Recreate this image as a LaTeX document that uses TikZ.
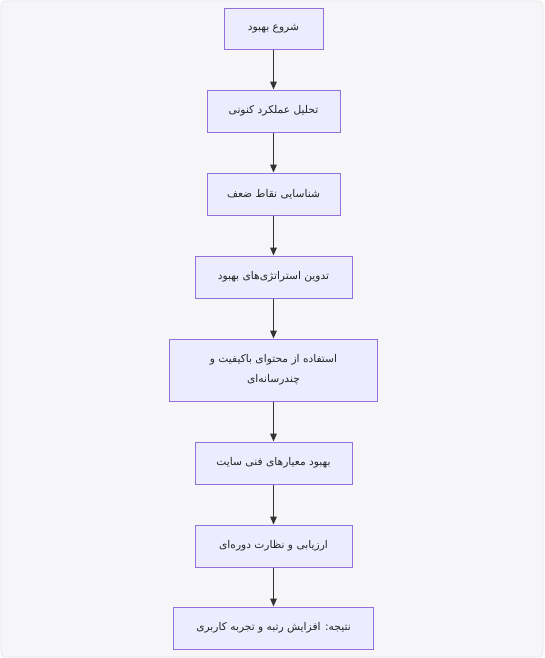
\documentclass[tikz,border=0pt]{standalone}
\usepackage{fontspec}
\setmainfont{DejaVu Sans}
\newfontfamily\arabicfont[Script=Arabic]{DejaVu Sans}
\TeXXeTstate=1
\usetikzlibrary{arrows.meta}
\definecolor{bgc}{HTML}{F6F6F8}
\definecolor{bgb}{HTML}{E4E4E8}
\definecolor{nodefill}{HTML}{ECECFF}
\definecolor{nodeline}{HTML}{9370DB}
\definecolor{edgec}{HTML}{333333}
\begin{document}
\begin{tikzpicture}[x=0.75pt,y=-0.75pt,
  box/.style={draw=nodeline,fill=nodefill,line width=0.75pt,inner sep=0pt,
    font=\arabicfont\fontsize{8}{15}\selectfont,text=black!85,align=center},
  flow/.style={draw=edgec,line width=0.75pt,-{Triangle[length=6pt,width=5pt]}}]
\useasboundingbox (0,0) rectangle (544,658);
\draw[fill=bgc,draw=bgb,rounded corners=3pt] (1,1) rectangle (543,657);
\node[box,minimum width=99*0.75pt,minimum height=41*0.75pt] (n1) at (273.5,28.5) {\beginR شروع بهبود\endR};
\node[box,minimum width=133*0.75pt,minimum height=42*0.75pt] (n2) at (273.5,111) {\beginR تحلیل عملکرد کنونی\endR};
\node[box,minimum width=133*0.75pt,minimum height=42*0.75pt] (n3) at (273.5,194) {\beginR شناسایی نقاط ضعف\endR};
\node[box,minimum width=157*0.75pt,minimum height=42*0.75pt] (n4) at (273.5,277) {\beginR تدوین استراتژی‌های بهبود\endR};
\node[box,minimum width=208*0.75pt,minimum height=62*0.75pt] (n5) at (273.5,370) {\beginR استفاده از محتوای باکیفیت و\endR\\\beginR چندرسانه‌ای\endR};
\node[box,minimum width=157*0.75pt,minimum height=42*0.75pt] (n6) at (273.5,463) {\beginR بهبود معیارهای فنی سایت\endR};
\node[box,minimum width=157*0.75pt,minimum height=42*0.75pt] (n7) at (273.5,546) {\beginR ارزیابی و نظارت دوره‌ای\endR};
\node[box,minimum width=200*0.75pt,minimum height=42*0.75pt] (n8) at (273.5,628) {\beginR نتیجه: افزایش رتبه و تجربه کاربری\endR};
\draw[flow] (n1) -- (n2);
\draw[flow] (n2) -- (n3);
\draw[flow] (n3) -- (n4);
\draw[flow] (n4) -- (n5);
\draw[flow] (n5) -- (n6);
\draw[flow] (n6) -- (n7);
\draw[flow] (n7) -- (n8);
\end{tikzpicture}
\end{document}
